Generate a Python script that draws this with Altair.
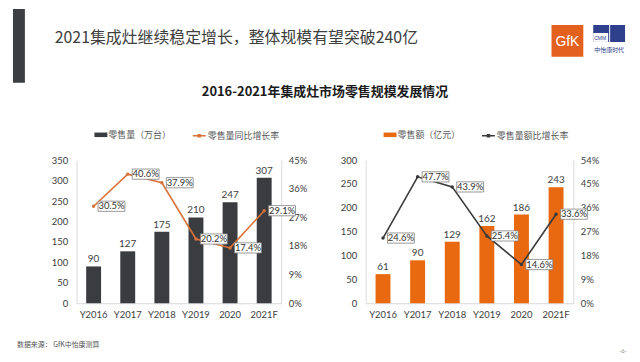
import altair as alt
import pandas as pd

cats = ["Y2016", "Y2017", "Y2018", "Y2019", "2020", "2021F"]
volume = [90, 127, 175, 210, 247, 307]
volume_growth = [30.5, 40.6, 37.9, 20.2, 17.4, 29.1]
sales = [61, 90, 129, 162, 186, 243]
sales_growth = [24.6, 47.7, 43.9, 25.4, 14.6, 33.6]

main_title = "2021集成灶继续稳定增长，整体规模有望突破240亿"
sub_title = "2016-2021年集成灶市场零售规模发展情况"
footer = "数据来源： GfK中怡康测算"

CJK = "Noto Sans CJK SC"
NUM = "Lato"
AX = "#D9D9D9"
LAB = "#404040"
BOX = "M-1,-0.38L1,-0.38L1,0.38L-1,0.38Z"
RECT = "M-1,-0.35L1,-0.35L1,0.35L-1,0.35Z"
LINESYM = "M-1,0L1,0M-0.16,-0.16L0.16,-0.16L0.16,0.16L-0.16,0.16Z"


def one():
    return alt.Chart(alt.Data(values=[{"a": 1}]))


def panel(vals, growth, bar_name, line_name, bar_color, line_color,
          ymax, pmax, width, decos):
    df = pd.DataFrame({"cat": cats, "v": vals, "g": growth,
                       "bs": bar_name, "ls": line_name})
    base = alt.Chart(df)
    x = alt.X("cat:N", sort=cats, title=None,
              scale=alt.Scale(paddingInner=0, paddingOuter=0),
              axis=alt.Axis(labelAngle=0, ticks=False, domainColor=AX,
                            labelFont=NUM, labelFontSize=9.5, labelColor=LAB,
                            labelPadding=6, grid=False))
    yv = alt.Y("v:Q", title=None, scale=alt.Scale(domain=[0, ymax]),
               axis=alt.Axis(values=list(range(0, ymax + 1, 50)), ticks=False,
                             grid=False, domainColor=AX, labelFont=NUM,
                             labelFontSize=9.5, labelColor=LAB, labelPadding=9,
                             labelOverlap=False, labelFlush=False))
    ticks = list(range(0, pmax + 1, 9))
    yg = alt.Y("g:Q", title=None, scale=alt.Scale(domain=[0, pmax]),
               axis=alt.Axis(orient="right", values=ticks, ticks=False,
                             grid=False, domainColor=AX, labelFont=NUM,
                             labelFontSize=9.5, labelColor=LAB, labelPadding=7,
                             labelOverlap=False, labelFlush=False,
                             labelExpr="datum.value + '%'"))
    bars = base.mark_bar(size=15).encode(
        x=x, y=yv,
        color=alt.Color("bs:N", scale=alt.Scale(range=[bar_color]),
                        legend=alt.Legend(orient="none", legendX=18, legendY=-32,
                                          title=None, symbolType=RECT,
                                          symbolSize=169, symbolStrokeWidth=0,
                                          labelFont=CJK, labelFontSize=9,
                                          labelColor="#595959", labelOffset=1)),
    )
    barlab = base.mark_text(dy=-7, font=NUM, fontSize=10, color=LAB).encode(
        x=x, y=yv, text="v:Q")
    line = base.mark_line(strokeWidth=1.6).encode(
        x=x, y=yg,
        stroke=alt.Stroke("ls:N", scale=alt.Scale(range=[line_color]),
                          legend=alt.Legend(orient="none", legendX=116, legendY=-32,
                                            title=None, symbolType=LINESYM,
                                            symbolSize=169, symbolStrokeWidth=1.4,
                                            symbolFillColor=line_color,
                                            labelFont=CJK, labelFontSize=9,
                                            labelColor="#595959", labelOffset=1)),
    )
    pts = base.mark_point(filled=True, size=12, opacity=1, color=line_color).encode(
        x=x, y=yg)
    boxes = base.mark_point(shape=BOX, size=729, filled=True, fill="white",
                            stroke="#7F7F7F", strokeWidth=0.8, opacity=1,
                            xOffset=18).encode(x=x, y=yg)
    plab = base.transform_calculate(
        lab="format(datum.g, '.1f') + '%'"
    ).mark_text(dx=18, font=NUM, fontSize=9.5, color="#333333").encode(
        x=x, y=yg, text="lab:N")
    return alt.layer(
        alt.layer(bars, barlab),
        alt.layer(line, pts, boxes, plab),
        *decos,
    ).resolve_scale(y="independent").properties(width=width, height=144)


left_decos = [
    one().mark_rect(color="#3B3F42").encode(
        x=alt.value(-64), x2=alt.value(-52), y=alt.value(-152), y2=alt.value(-78)),
    one().mark_text(text=main_title, align="left", baseline="middle", font=CJK,
                    fontSize=16, color="#404040").encode(
        x=alt.value(-22), y=alt.value(-123)),
    one().mark_text(text=sub_title, align="center", baseline="middle", font=CJK,
                    fontSize=13, fontWeight="bold", color="#1A1A1A").encode(
        x=alt.value(250), y=alt.value(-69)),
    one().mark_text(text=footer, align="left", baseline="middle", font=CJK,
                    fontSize=7, color="#555555").encode(
        x=alt.value(-60), y=alt.value(186)),
]

right_decos = [
    one().mark_rect(color="#E4601E").encode(
        x=alt.value(187), x2=alt.value(219), y=alt.value(-136), y2=alt.value(-104)),
    one().mark_text(text="GfK", align="center", baseline="middle", font="Liberation Sans",
                    fontSize=14, color="white").encode(
        x=alt.value(203), y=alt.value(-119)),
    one().mark_rect(color="#2E3F8C").encode(
        x=alt.value(229), x2=alt.value(261), y=alt.value(-136), y2=alt.value(-119)),
    one().mark_rect(color="white").encode(
        x=alt.value(229), x2=alt.value(244), y=alt.value(-128), y2=alt.value(-119)),
    one().mark_rect(color="white").encode(
        x=alt.value(245), x2=alt.value(246), y=alt.value(-136), y2=alt.value(-119)),
    one().mark_text(text="CMM", align="center", baseline="middle", font="Liberation Sans",
                    fontSize=5, color="#2E3F8C").encode(
        x=alt.value(236), y=alt.value(-123)),
    one().mark_text(text="中怡康时代", align="center", baseline="middle", font=CJK,
                    fontSize=6, color="#2E3F8C").encode(
        x=alt.value(245), y=alt.value(-111)),
    one().mark_text(text="-6-", align="center", baseline="middle", font=NUM,
                    fontSize=6, color="#888888").encode(
        x=alt.value(259), y=alt.value(192)),
]

left = panel(volume, volume_growth, "零售量（万台）", "零售量同比增长率",
             "#3A3C40", "#D9733A", 350, 45, 206, left_decos)
right = panel(sales, sales_growth, "零售额（亿元）", "零售量额比增长率",
              "#E8690F", "#3A3A3A", 300, 54, 209, right_decos)

chart = alt.hconcat(left, right, spacing=85, bounds="flush").resolve_scale(
    color="independent", stroke="independent"
).resolve_legend(color="independent", stroke="independent").properties(
    padding={"left": 5, "top": 0, "right": 5, "bottom": 5}
).configure_view(stroke=None)

chart.save("out.html", embed_options={"renderer": "svg", "actions": False})
